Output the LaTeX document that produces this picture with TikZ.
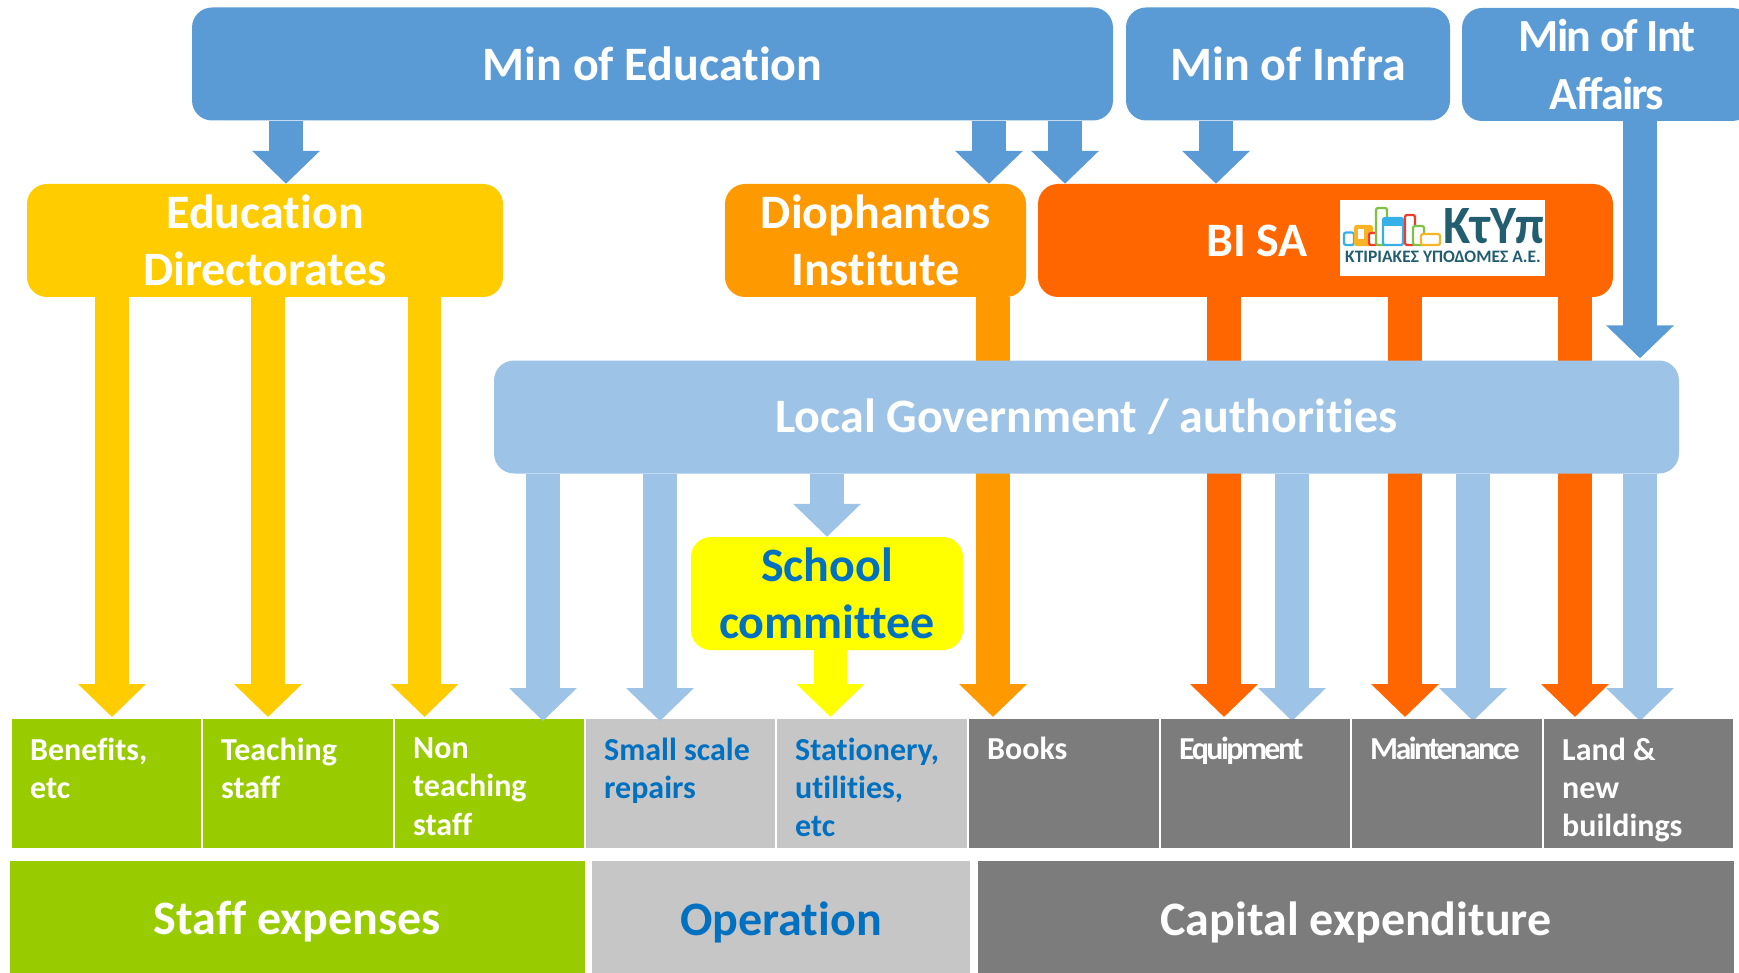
\documentclass[tikz,border=0pt]{standalone}
\usepackage{fontspec}
\setmainfont{Carlito}[Ligatures=CommonOff]
\usetikzlibrary{arrows.meta,positioning,backgrounds}
\definecolor{govblue}{HTML}{5B9BD5}
\definecolor{localblue}{HTML}{9DC3E6}
\definecolor{gold}{HTML}{FFCC00}
\definecolor{amber}{HTML}{FF9900}
\definecolor{bisa}{HTML}{FF6600}
\definecolor{lemon}{HTML}{FFFF00}
\definecolor{staffgreen}{HTML}{99CC00}
\definecolor{opgrey}{HTML}{C6C6C6}
\definecolor{capgrey}{HTML}{7C7C7C}
\definecolor{inkblue}{HTML}{0070C0}
\definecolor{logoink}{HTML}{225E70}
\definecolor{logoblue}{HTML}{35B1E8}
\definecolor{logored}{HTML}{EE3B2F}
\definecolor{logogreen}{HTML}{7DC242}
\definecolor{logoyellow}{HTML}{F6B426}
\tikzset{flow/.style={line width=33.5pt,-{Triangle[length=33pt,width=66pt]}}}
\tikzset{toptier/.style={rounded corners=20pt,inner sep=0pt,text=white,align=center,minimum height=113pt,
    font=\fontsize{48}{57}\selectfont\bfseries}}
\tikzset{cell/.style={inner sep=0pt,outer sep=0pt,minimum height=129pt}}
\tikzset{celltext/.style={anchor=north west,inner xsep=18pt,inner ysep=18.5pt,align=left,text=white,
    execute at begin node=\rule{0pt}{24pt},
    font=\fontsize{32}{38.3}\selectfont\bfseries}}
\tikzset{band/.style={inner sep=0pt,minimum height=122pt,text=white,font=\fontsize{48}{57}\selectfont\bfseries}}
\tikzset{logobar/.style={rounded corners=2pt,line width=2.2pt,fill=white}}
\begin{document}
\begin{tikzpicture}[x=1pt,y=-1pt]
    \useasboundingbox (0,0) rectangle (1739,973);
    % ministries
    \node[toptier,fill=govblue,minimum width=921pt](edu) at (652.5,64){Min of Education};
    \node[toptier,fill=govblue,minimum width=324pt](infra) at (1288,64){Min of Infra};
    \node[toptier,fill=govblue,minimum width=290pt,font=\fontsize{46}{58}\selectfont\bfseries\addfontfeature{LetterSpace=-3.6}](interior) at (1607,64.5){Min of Int\\Affairs};
    % agencies
    \node[toptier,fill=gold,minimum width=476pt](dirs) at (265,240.5){Education\\Directorates};
    \node[toptier,fill=amber,minimum width=301pt](dioph) at (875.5,240.5){Diophantos\\Institute};
    \node[toptier,fill=bisa,minimum width=575pt](bi) at (1325.5,240.5){};
    \node[text=white,font=\fontsize{48}{57}\selectfont\bfseries](biName) at (1257,241){BI SA};
    \node[toptier,fill=localblue,minimum width=1185pt](local) at (1086.5,417){\raisebox{-2pt}{Local Government / authorities}};
    \node[toptier,fill=lemon,text=inkblue,minimum width=272pt](school) at (827,593.5){School\\committee};
    % logo
    \node[fill=white,inner sep=0pt,minimum width=205pt,minimum height=76pt](logo) at (1442.5,238){};
    \draw[logobar,draw=logoblue] (1344,232.5) rectangle (1354,245);
    \draw[logobar,draw=logoyellow,fill=logoyellow] (1355,226) rectangle (1372,245);
    \fill[white] (1358,229) rectangle (1364,239);
    \draw[logobar,draw=logored] (1369,233) rectangle (1377,245);
    \draw[logobar,draw=logogreen] (1376,208) rectangle (1387,245);
    \draw[logobar,draw=logoblue] (1383,218) rectangle (1403,245);
    \fill[logoblue] (1383,218) rectangle (1403,226);
    \draw[logobar,draw=logored] (1405,215) rectangle (1415,245);
    \draw[logobar,draw=logogreen] (1413,226) rectangle (1424,245);
    \draw[logobar,draw=logoyellow] (1421,234) rectangle (1440,245);
    \node[inner sep=0pt,text=logoink,transform shape,xscale=.92,font=\fontsize{54}{54}\selectfont\bfseries](ktyp) at (1494,226){ΚτΥπ};
    \node[inner sep=0pt,text=logoink,font=\fontsize{17.5}{17.5}\selectfont\bfseries](ktypName) at (1443,257){ΚΤΙΡΙΑΚΕΣ ΥΠΟΔΟΜΕΣ Α.Ε.};
    % items
    \node[cell,fill=staffgreen,minimum width=189pt,anchor=north west](ben) at (12,719){};
    \node[cell,fill=staffgreen,minimum width=190pt,right=2pt of ben](teach){};
    \node[cell,fill=staffgreen,minimum width=189pt,right=2pt of teach](nonteach){};
    \node[cell,fill=opgrey,minimum width=189pt,right=2pt of nonteach](repairs){};
    \node[cell,fill=opgrey,minimum width=190pt,right=2pt of repairs](station){};
    \node[cell,fill=capgrey,minimum width=190pt,right=2pt of station](books){};
    \node[cell,fill=capgrey,minimum width=189pt,right=2pt of books](equip){};
    \node[cell,fill=capgrey,minimum width=189.5pt,right=2pt of equip](maint){};
    \node[cell,fill=capgrey,minimum width=188.5pt,right=2.5pt of maint](land){};
    \node[celltext](benText) at (ben.north west){Benefits,\\etc};
    \node[celltext](teachText) at (teach.north west){Teaching\\staff};
    \node[celltext](nonteachText) at (nonteach.north west){Non\\teaching\\staff};
    \node[celltext,text=inkblue](repairsText) at (repairs.north west){Small scale\\repairs};
    \node[celltext,text=inkblue](stationText) at (station.north west){Stationery,\\utilities,\\etc};
    \node[celltext,inner ysep=16.5pt](booksText) at (books.north west){Books};
    \node[celltext,inner ysep=16.5pt](equipText) at (equip.north west){\addfontfeature{LetterSpace=-8}Equipment};
    \node[celltext,inner ysep=16.5pt](maintText) at (maint.north west){\addfontfeature{LetterSpace=-8}Maintenance};
    \node[celltext](landText) at (land.north west){Land \&\\new\\buildings};
    % categories
    \node[band,fill=staffgreen,minimum width=575pt](staff) at (297.5,922){Staff expenses};
    \node[band,fill=opgrey,text=inkblue,minimum width=378pt](oper) at (781,922){Operation};
    \node[band,fill=capgrey,minimum width=756pt](capex) at (1356,922){Capital expenditure};
    % drop lines
    \coordinate(dBen) at (112,0);
    \coordinate(dTeach) at (268,0);
    \coordinate(dNon) at (424.5,0);
    \coordinate(dEdu) at (286,0);
    \coordinate(dDioph) at (989,0);
    \coordinate(dBi) at (1065,0);
    \coordinate(dInfra) at (1216,0);
    \coordinate(dInt) at (1640,0);
    \coordinate(dLoc) at (543,0);
    \coordinate(dRep) at (660,0);
    \coordinate(dSch) at (827,0);
    \coordinate(dSta) at (830.5,0);
    \coordinate(dBooks) at (993,0);
    \coordinate(dEqO) at (1224,0);
    \coordinate(dEqB) at (1292,0);
    \coordinate(dMaO) at (1405,0);
    \coordinate(dMaB) at (1473,0);
    \coordinate(dLaO) at (1575,0);
    \coordinate(dLaB) at (1640,0);
    \draw[flow,govblue] (edu.south -| dEdu) -- (dirs.north -| dEdu);
    \draw[flow,govblue] (edu.south -| dDioph) -- (dioph.north -| dDioph);
    \draw[flow,govblue] (edu.south -| dBi) -- (bi.north -| dBi);
    \draw[flow,govblue] (infra.south -| dInfra) -- (bi.north -| dInfra);
    \draw[flow,govblue,shorten >=2pt] (interior.south -| dInt) -- (local.north -| dInt);
    \draw[flow,gold,shorten >=2pt] (dirs.south -| dBen) -- (ben.north -| dBen);
    \draw[flow,gold,shorten >=2pt] (dirs.south -| dTeach) -- (teach.north -| dTeach);
    \draw[flow,gold,shorten >=2pt] (dirs.south -| dNon) -- (nonteach.north -| dNon);
    \draw[flow,lemon,shorten >=2pt] (school.south -| dSta) -- (station.north -| dSta);
    \draw[flow,localblue] (local.south -| dSch) -- (school.north -| dSch);
    \draw[flow,localblue,shorten >=-2pt] (local.south -| dLoc) -- (nonteach.north -| dLoc);
    \draw[flow,localblue,shorten >=-2pt] (local.south -| dRep) -- (repairs.north -| dRep);
    \begin{scope}[on background layer]
      \draw[flow,localblue,shorten >=-2pt] (local.south -| dEqB) -- (equip.north -| dEqB);
      \draw[flow,localblue,shorten >=-2pt] (local.south -| dMaB) -- (maint.north -| dMaB);
      \draw[flow,localblue,shorten >=-2pt] (local.south -| dLaB) -- (land.north -| dLaB);
      \draw[flow,amber,shorten >=2pt] (dioph.south -| dBooks) -- (books.north -| dBooks);
      \draw[flow,bisa,shorten >=2pt] (bi.south -| dEqO) -- (equip.north -| dEqO);
      \draw[flow,bisa,shorten >=2pt] (bi.south -| dMaO) -- (maint.north -| dMaO);
      \draw[flow,bisa,shorten >=2pt] (bi.south -| dLaO) -- (land.north -| dLaO);
    \end{scope}
\end{tikzpicture}
\end{document}
